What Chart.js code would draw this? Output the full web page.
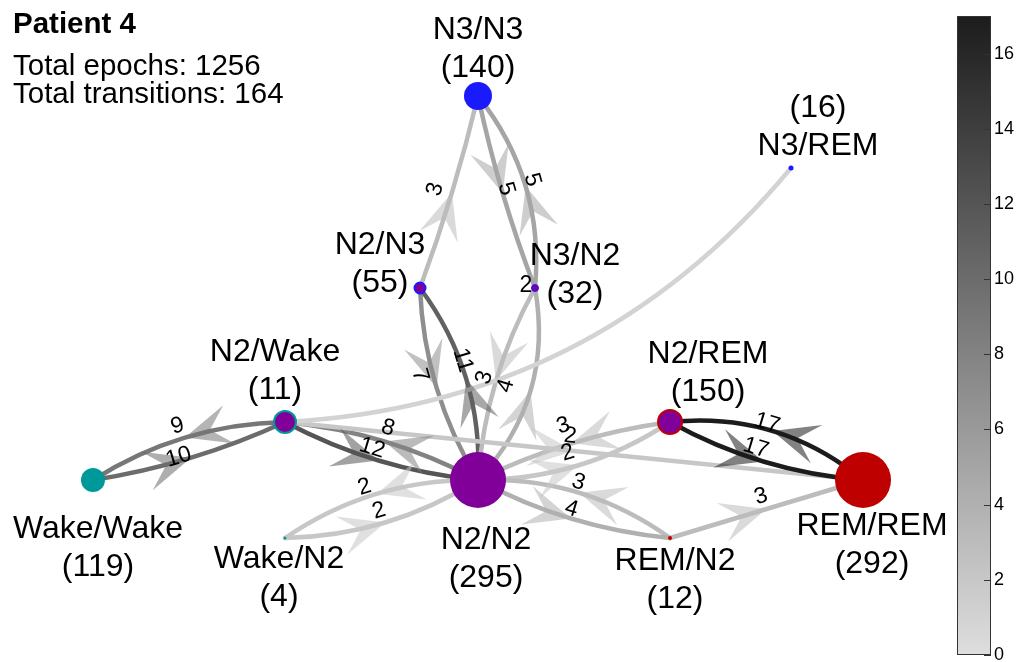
<!DOCTYPE html>
<html>
<head>
<meta charset="utf-8">
<title>Patient 4</title>
<script src="https://cdn.jsdelivr.net/npm/chart.js@4.4.1/dist/chart.umd.min.js"></script>
<style>
  html, body { margin: 0; padding: 0; background: #fff; }
  canvas { display: block; }
</style>
</head>
<body>
<canvas id="graph" width="1016" height="662"></canvas>
<script>
// states and their epoch counts
const nodeNames  = ['Wake/Wake', 'N2/Wake', 'Wake/N2', 'N2/N2', 'N2/N3', 'N3/N2', 'N3/N3', 'N3/REM', 'N2/REM', 'REM/REM', 'REM/N2'];
const nodeCounts = [119, 11, 4, 295, 55, 32, 140, 16, 150, 292, 12];
// graph layout coordinates
const nodeX = [93, 285, 285, 478, 420, 535, 478, 791, 670, 863, 670];
const nodeY = [480, 422, 538, 480, 288, 288, 96, 168, 422, 480, 538];

// transitions
const edgeFrom  = ['N2/Wake', 'Wake/Wake', 'N2/N2', 'N2/Wake', 'N2/N2', 'Wake/N2', 'N2/N3', 'N3/N3', 'N3/N2', 'N2/N3', 'N2/N2', 'N3/N2',
                   'N2/N2', 'N2/REM', 'N2/N2', 'N2/Wake', 'N2/Wake', 'REM/N2', 'N2/N2', 'REM/N2', 'REM/REM', 'N2/REM', 'N3/N2'];
const edgeTo    = ['Wake/Wake', 'N2/Wake', 'N2/Wake', 'N2/N2', 'Wake/N2', 'N2/N2', 'N3/N3', 'N3/N2', 'N3/N3', 'N2/N2', 'N2/N3', 'N2/N2',
                   'N3/N2', 'N2/N2', 'N2/REM', 'REM/REM', 'N3/REM', 'N2/N2', 'REM/N2', 'REM/REM', 'N2/REM', 'REM/REM', 'N3/N2'];
const edgeCount = [9, 10, 8, 12, 2, 2, 3, 5, 5, 7, 11, 3,
                   4, 3, 2, 2, 1, 3, 4, 3, 17, 17, 2];

const headerTitle = 'Patient 4';
const headerLines = ['Total epochs: 1256', 'Total transitions: 164'];
const colorMax = 17;
const colorTicks = [0, 2, 4, 6, 8, 10, 12, 14, 16];

// look
const FONT = "'Liberation Sans', Arial, Helvetica, sans-serif";
const TEAL = 'rgb(0,153,153)', PURPLE = 'rgb(128,0,153)', BLUE = 'rgb(26,26,255)', RED = 'rgb(191,0,0)';
const nodeRadius = [12, 11, 1.5, 28, 5.5, 3.5, 14, 2.5, 12, 28, 2];
const nodeFill   = [TEAL, PURPLE, TEAL, PURPLE, PURPLE, PURPLE, BLUE, BLUE, PURPLE, RED, RED];
const nodeEdge   = [TEAL, TEAL, TEAL, PURPLE, BLUE, BLUE, BLUE, BLUE, RED, RED, RED];
const nodeEdgeW  = [0, 2, 0, 0, 2, 1, 0, 0, 2, 0, 0];
// label anchor (first line centre relative to node), line gap 38
const labelDX = [5, -10, -6, 8, -40, 40, 0, 27, 38, 9, 5];
const labelDY = [49, -70, 21, 60, -43, -32, -66, -60, -68, 46, 23];
const countFirst = [false, false, false, false, false, false, false, true, false, false, false];
// edge curvature (px of mid offset), label nudges and label visibility
const edgeBend = [14, 7, 10, 10, 16, 14, 3, 4, 20, 13, 18, 11, 25, 8, 15, 0, 62, 17, 10, 0, 21, 11, 0];
const labelNX  = [-4, -9, 0, -10, -9, -3, -5, -8, -5, -28, -15, 0, -13, -5, -7, -5, 0, -4, -3, -2, -9, -11, 0];
const labelNY  = [0, 11, -2, -1, 5, 0, 0, -1, -3, -9, -15, 0, -2, -6, -1, -3, 0, 1, 2, -1, 4, -2, 0];
const edgeShowLabel = edgeCount.map((c, i) => i !== 16);

function grayOf(v, a) {
  const g = Math.round(222 - 11.4 * v);
  return a === undefined ? `rgb(${g},${g},${g})` : `rgba(${g},${g},${g},${a})`;
}

function edgeGeom(chart, i) {
  const xs = chart.scales.x, ys = chart.scales.y;
  const a = nodeNames.indexOf(edgeFrom[i]), b = nodeNames.indexOf(edgeTo[i]);
  const x0 = xs.getPixelForValue(nodeX[a]), y0 = ys.getPixelForValue(nodeY[a]);
  const x1 = xs.getPixelForValue(nodeX[b]), y1 = ys.getPixelForValue(nodeY[b]);
  const dx = x1 - x0, dy = y1 - y0, len = Math.hypot(dx, dy) || 1;
  const nx = -dy / len, ny = dx / len;
  const mx = (x0 + x1) / 2 + edgeBend[i] * nx, my = (y0 + y1) / 2 + edgeBend[i] * ny;
  return { x0, y0, x1, y1, mx, my, cx: 2 * mx - (x0 + x1) / 2, cy: 2 * my - (y0 + y1) / 2,
           ux: dx / len, uy: dy / len, self: a === b };
}

function drawArrow(ctx, g) {
  const L = 46, W = 20, N = 26;
  const vx = -g.uy, vy = g.ux;
  const bx = g.mx - L * g.ux, by = g.my - L * g.uy;
  ctx.beginPath();
  ctx.moveTo(g.mx, g.my);
  ctx.lineTo(bx + W * vx, by + W * vy);
  ctx.lineTo(g.mx - N * g.ux, g.my - N * g.uy);
  ctx.lineTo(bx - W * vx, by - W * vy);
  ctx.closePath();
  ctx.fill();
}

const graphPlugin = {
  id: 'graph',
  beforeDatasetsDraw(chart) {
    const ctx = chart.ctx;
    ctx.save();
    ctx.lineCap = 'round';
    edgeCount.forEach((c, i) => {
      const g = edgeGeom(chart, i);
      if (g.self) return;
      ctx.strokeStyle = grayOf(c);
      ctx.lineWidth = 4.5;
      ctx.beginPath();
      ctx.moveTo(g.x0, g.y0);
      ctx.quadraticCurveTo(g.cx, g.cy, g.x1, g.y1);
      ctx.stroke();
    });
    edgeCount.forEach((c, i) => {
      const g = edgeGeom(chart, i);
      if (g.self || !edgeShowLabel[i]) return;
      ctx.fillStyle = grayOf(c, 0.55);
      drawArrow(ctx, g);
    });
    ctx.restore();
  },
  afterDatasetsDraw(chart) {
    const ctx = chart.ctx;
    const xs = chart.scales.x, ys = chart.scales.y;
    ctx.save();
    ctx.fillStyle = '#000';
    ctx.textAlign = 'center';
    ctx.textBaseline = 'middle';

    // edge labels
    ctx.font = `23px ${FONT}`;
    edgeCount.forEach((c, i) => {
      if (!edgeShowLabel[i]) return;
      const g = edgeGeom(chart, i);
      if (g.self) {
        ctx.fillText(String(c), g.x0 - 9, g.y0 - 2);
        return;
      }
      let ang = Math.atan2(g.uy, g.ux);
      if (ang > Math.PI / 2) ang -= Math.PI;
      if (ang <= -Math.PI / 2) ang += Math.PI;
      const lx = g.mx + 12 * Math.sin(ang) + labelNX[i], ly = g.my - 12 * Math.cos(ang) + labelNY[i];
      ctx.save();
      ctx.translate(lx, ly);
      ctx.rotate(ang);
      ctx.fillText(String(c), 0, 0);
      ctx.restore();
    });

    // node labels
    ctx.font = `32px ${FONT}`;
    nodeNames.forEach((name, i) => {
      const x = xs.getPixelForValue(nodeX[i]) + labelDX[i];
      const y = ys.getPixelForValue(nodeY[i]) + labelDY[i];
      const lines = countFirst[i] ? [`(${nodeCounts[i]})`, name] : [name, `(${nodeCounts[i]})`];
      lines.forEach((t, k) => ctx.fillText(t, x, y + 38 * k));
    });

    // header
    ctx.textAlign = 'left';
    ctx.font = `bold 29.5px ${FONT}`;
    ctx.fillText(headerTitle, 13, 25);
    ctx.font = `29.5px ${FONT}`;
    headerLines.forEach((t, k) => ctx.fillText(t, 13, 67 + 28 * k));

    // colour bar, placed on the colour scale
    const cb = chart.scales.cb;
    const r = chart.chartArea.right, l = r - 34;
    const top = cb.getPixelForValue(colorMax), bot = cb.getPixelForValue(0);
    const grad = ctx.createLinearGradient(0, bot, 0, top);
    grad.addColorStop(0, grayOf(0));
    grad.addColorStop(1, grayOf(colorMax));
    ctx.fillStyle = grad;
    ctx.fillRect(l, top, r - l, bot - top);
    ctx.strokeStyle = '#333';
    ctx.lineWidth = 1;
    ctx.strokeRect(l + 0.5, top + 0.5, r - l - 1, bot - top - 1);
    ctx.fillStyle = '#000';
    ctx.font = `18px ${FONT}`;
    colorTicks.forEach(v => {
      const ty = Math.round(cb.getPixelForValue(v)) + 0.5;
      ctx.beginPath();
      ctx.moveTo(r - 7, ty);
      ctx.lineTo(r, ty);
      ctx.stroke();
      ctx.fillText(String(v), r + 3, ty);
    });
    ctx.restore();
  }
};

const chart = new Chart(document.getElementById('graph'), {
  type: 'scatter',
  data: {
    datasets: [{
      data: nodeX.map((x, i) => ({ x, y: nodeY[i] })),
      pointRadius: nodeRadius,
      pointHoverRadius: nodeRadius,
      pointBackgroundColor: nodeFill,
      pointBorderColor: nodeEdge,
      pointBorderWidth: nodeEdgeW,
      clip: false
    }]
  },
  options: {
    responsive: false,
    animation: false,
    devicePixelRatio: 1,
    events: [],
    layout: { autoPadding: false, padding: { left: 0, right: 25, top: 16, bottom: 7 } },
    plugins: { legend: { display: false }, tooltip: { enabled: false } },
    scales: {
      x: { type: 'linear', min: 0, max: 991, display: false },
      y: { type: 'linear', min: 16, max: 655, reverse: true, display: false },
      cb: { type: 'linear', position: 'right', min: 0, max: colorMax, display: false }
    }
  },
  plugins: [graphPlugin]
});
</script>
</body>
</html>
